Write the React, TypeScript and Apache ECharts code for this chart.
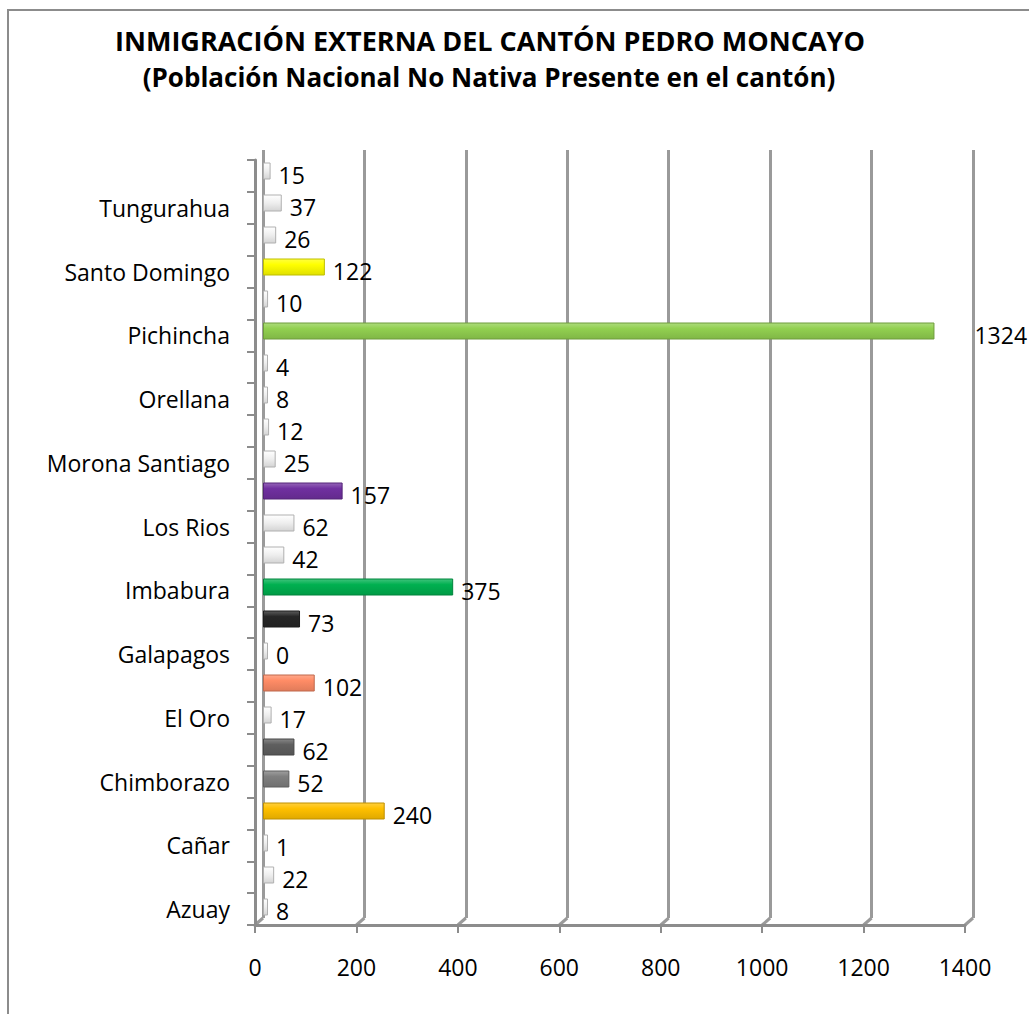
import React, { useEffect, useRef } from "react";
import * as echarts from "echarts";

const titleLine1 = "INMIGRACIÓN EXTERNA DEL CANTÓN PEDRO MONCAYO";
const titleLine2 = "(Población Nacional No Nativa Presente en el cantón)";

const categories = [
  "Azuay", "Bolívar", "Cañar", "Carchi", "Chimborazo", "Cotopaxi",
  "El Oro", "Esmeraldas", "Galapagos", "Guayas", "Imbabura", "Loja",
  "Los Rios", "Manabí", "Morona Santiago", "Napo", "Orellana", "Pastaza",
  "Pichincha", "Santa Elena", "Santo Domingo", "Sucumbíos", "Tungurahua",
  "Zamora Chinchipe",
];

const values = [
  8, 22, 1, 240, 52, 62, 17, 102, 0, 73, 375, 42,
  62, 157, 25, 12, 8, 4, 1324, 10, 122, 26, 37, 15,
];

const LIGHT = "light";
const barColors = [
  LIGHT, LIGHT, LIGHT, "#FFC000", "#7F7F7F", "#5F5F5F",
  LIGHT, "#FF8C66", LIGHT, "#262626", "#00B050", LIGHT,
  LIGHT, "#7030A0", LIGHT, LIGHT, LIGHT, LIGHT,
  "#92D050", LIGHT, "#FFFF00", LIGHT, LIGHT, LIGHT,
];

const xTicks = [0, 200, 400, 600, 800, 1000, 1200, 1400];

const FONT = "'Open Sans', 'Noto Sans', sans-serif";

function shade(hex: string, amt: number): string {
  const n = parseInt(hex.slice(1), 16);
  let r = (n >> 16) & 255, g = (n >> 8) & 255, b = n & 255;
  const f = (c: number) =>
    Math.max(0, Math.min(255, Math.round(amt >= 0 ? c + (255 - c) * amt : c * (1 + amt))));
  r = f(r); g = f(g); b = f(b);
  return "#" + ((1 << 24) | (r << 16) | (g << 8) | b).toString(16).slice(1);
}

function itemStyleFor(c: string) {
  if (c === LIGHT) {
    return {
      color: new echarts.graphic.LinearGradient(0, 0, 0, 1, [
        { offset: 0, color: "#ffffff" },
        { offset: 0.5, color: "#eeeeee" },
        { offset: 1, color: "#d4d4d4" },
      ]),
      borderColor: "#b0b0b0",
      borderWidth: 1,
    };
  }
  return {
    color: new echarts.graphic.LinearGradient(0, 0, 0, 1, [
      { offset: 0, color: shade(c, 0.25) },
      { offset: 0.35, color: c },
      { offset: 1, color: shade(c, -0.12) },
    ]),
    borderColor: shade(c, -0.25),
    borderWidth: 1,
  };
}

export default function App() {
  const ref = useRef<HTMLDivElement>(null);

  useEffect(() => {
    if (!ref.current) return;
    const chart = echarts.init(ref.current, null, { renderer: "svg" });

    const barData = values.map((v, i) => ({
      value: v,
      itemStyle: itemStyleFor(barColors[i]),
      label: v > 1000 ? { distance: 40 } : undefined,
    }));

    const baseGraphic: any[] = [
      {
        type: "rect",
        shape: { x: 8, y: 10, width: 1100, height: 1100 },
        style: { fill: "none", stroke: "#8c8c8c", lineWidth: 2 },
        silent: true,
        z: -10,
      },
      {
        type: "text",
        x: 490,
        y: 40,
        style: {
          text: titleLine1,
          fill: "#000",
          font: `bold 27px ${FONT}`,
          textAlign: "center",
          textVerticalAlign: "middle",
        },
      },
      {
        type: "text",
        x: 489,
        y: 77,
        style: {
          text: titleLine2,
          fill: "#000",
          font: `bold 26px ${FONT}`,
          textAlign: "center",
          textVerticalAlign: "middle",
        },
      },
    ];

    const option: any = {
      animation: false,
      backgroundColor: "#ffffff",
      textStyle: { fontFamily: FONT },
      graphic: baseGraphic,
      grid: [
        { left: 255, top: 160, width: 710, height: 765, containLabel: false },
        { left: 263, top: 150, width: 710, height: 768, containLabel: false },
        { left: 263, top: 155, width: 710, height: 768, containLabel: false },
      ],
      xAxis: [
        {
          gridIndex: 0,
          type: "value",
          min: 0,
          max: 1400,
          interval: 200,
          axisLine: { show: true, lineStyle: { color: "#8c8c8c", width: 3 } },
          axisTick: { show: true, length: 8, lineStyle: { color: "#8c8c8c", width: 2 } },
          axisLabel: {
            color: "#000",
            fontSize: 23,
            fontFamily: FONT,
            margin: 30,
            formatter: (v: number) => (xTicks.includes(v) ? String(v) : ""),
          },
          splitLine: { show: false },
        },
        {
          gridIndex: 1,
          type: "value",
          min: 0,
          max: 1400,
          interval: 200,
          axisLine: { show: false },
          axisTick: { show: false },
          axisLabel: { show: false },
          splitLine: { show: true, lineStyle: { color: "#9a9a9a", width: 3 } },
        },
        {
          gridIndex: 2,
          type: "value",
          min: 0,
          max: 1400,
          interval: 200,
          show: false,
          splitLine: { show: false },
        },
      ],
      yAxis: [
        {
          gridIndex: 0,
          type: "category",
          data: categories,
          axisLine: { show: true, lineStyle: { color: "#8c8c8c", width: 3 } },
          axisTick: { show: true, length: 8, interval: 0, lineStyle: { color: "#8c8c8c", width: 2 } },
          axisLabel: {
            interval: 1,
            color: "#000",
            fontSize: 23,
            fontFamily: FONT,
            margin: 25,
          },
          splitLine: { show: false },
        },
        {
          gridIndex: 1,
          type: "category",
          data: categories,
          show: false,
        },
        {
          gridIndex: 2,
          type: "category",
          data: categories,
          show: false,
        },
      ],
      series: [
        {
          type: "bar",
          xAxisIndex: 2,
          yAxisIndex: 2,
          data: barData,
          barWidth: 17,
          barMinHeight: 5,
          label: {
            show: true,
            position: "right",
            distance: 8,
            offset: [0, 4],
            color: "#000",
            fontSize: 23,
            fontFamily: FONT,
          },
        },
      ],
    };

    chart.setOption(option);

    // 3D floor connectors from front ticks to back gridlines, via the axes' scales
    const yFront = chart.convertToPixel({ yAxisIndex: 0 }, categories[0]) as number;
    const connectors = xTicks.map((t) => {
      const xf = chart.convertToPixel({ xAxisIndex: 0 }, t) as number;
      const xb = chart.convertToPixel({ xAxisIndex: 1 }, t) as number;
      return {
        type: "line",
        shape: { x1: xf, y1: 925, x2: xb, y2: 918 },
        style: { stroke: "#9a9a9a", lineWidth: 3 },
        silent: true,
      };
    });
    void yFront;
    chart.setOption({ graphic: [...baseGraphic, ...connectors] });

    return () => chart.dispose();
  }, []);

  return (
    <div
      ref={ref}
      style={{ position: "absolute", left: 0, top: 0, width: 1029, height: 1014 }}
    />
  );
}
